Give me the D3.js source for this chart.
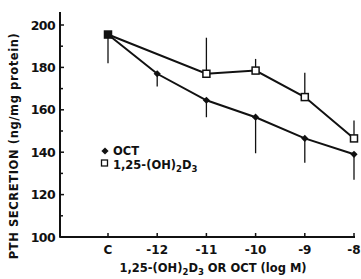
<!DOCTYPE html>
<html><head><meta charset="utf-8">
<script src="https://cdn.jsdelivr.net/npm/d3@7/dist/d3.min.js"></script>
<style>body{margin:0;background:#fff}svg{display:block}text{font-family:"DejaVu Sans",sans-serif;fill:#111}</style>
</head><body><svg id="c" width="361" height="279"></svg>
<script>
const categories = ["C","-12","-11","-10","-9","-8"];
const yTicks = [100,120,140,160,180,200];
const octValues = [195.5,177,164.5,156.5,146.5,139];
const octErrLow = [182,171,156.5,139.5,135,127];
const d3Cats = ["C","-11","-10","-9","-8"];
const d3Values = [195.5,177,178.5,166,146.5];
const d3ErrHigh = [195.5,194,184,177.5,155];

const svg = d3.select("#c");
const x = d3.scalePoint().domain(categories).range([108,354]);
const y = d3.scaleLinear().domain([100,200]).range([237,25]);
const x0 = 60;

const g = svg.append("g");
g.selectAll(".eo").data(categories).join("line")
  .attr("x1",d=>x(d)).attr("x2",d=>x(d))
  .attr("y1",(d,i)=>y(octValues[i])).attr("y2",(d,i)=>y(octErrLow[i]))
  .attr("stroke","#111").attr("stroke-width",1.3);
g.selectAll(".ed").data(d3Cats).join("line")
  .attr("x1",d=>x(d)).attr("x2",d=>x(d))
  .attr("y1",(d,i)=>y(d3Values[i])).attr("y2",(d,i)=>y(d3ErrHigh[i]))
  .attr("stroke","#111").attr("stroke-width",1.3);

const lo = d3.line().x(d=>x(d[0])).y(d=>y(d[1]));
g.append("path").datum(categories.map((c,i)=>[c,octValues[i]])).attr("d",lo)
  .attr("fill","none").attr("stroke","#111").attr("stroke-width",2);
g.append("path").datum(d3Cats.map((c,i)=>[c,d3Values[i]])).attr("d",lo)
  .attr("fill","none").attr("stroke","#111").attr("stroke-width",2);

const diamond = d3.symbol().type(d3.symbolSquare).size(26);
g.selectAll(".mo").data(categories).join("path")
  .attr("d",diamond).attr("transform",(d,i)=>`translate(${x(d)},${y(octValues[i])}) rotate(45)`)
  .attr("fill","#111");
g.selectAll(".md").data(d3Cats).join("rect")
  .attr("x",d=>x(d)-3.5).attr("width",7).attr("height",7)
  .attr("y",(d,i)=>y(d3Values[i])-3.5)
  .attr("fill",(d,i)=>i===0?"#111":"#fff").attr("stroke","#111").attr("stroke-width",1.5);

const ax = svg.append("g");
ax.append("line").attr("x1",x0).attr("x2",x0).attr("y1",12).attr("y2",y(100)).attr("stroke","#111").attr("stroke-width",2);
ax.append("line").attr("x1",x0).attr("x2",x(categories[5])+1).attr("y1",y(100)).attr("y2",y(100)).attr("stroke","#111").attr("stroke-width",2);
const minor = d3.range(110,200,20);
ax.selectAll(".yt").data(yTicks).join("line")
  .attr("x1",x0-1).attr("x2",x0+4).attr("y1",d=>y(d)).attr("y2",d=>y(d)).attr("stroke","#111").attr("stroke-width",1.5);
ax.selectAll(".ym").data(minor).join("line")
  .attr("x1",x0).attr("x2",x0+3).attr("y1",d=>y(d)).attr("y2",d=>y(d)).attr("stroke","#111").attr("stroke-width",1.5);
ax.selectAll(".yl").data(yTicks).join("text")
  .attr("x",x0-5).attr("y",d=>y(d)+4.5).attr("text-anchor","end")
  .attr("font-size",12.5).attr("font-weight","bold").attr("letter-spacing","-0.6").text(d=>d);
ax.selectAll(".xt").data(categories).join("line")
  .attr("x1",d=>x(d)).attr("x2",d=>x(d)).attr("y1",y(100)).attr("y2",y(100)-4).attr("stroke","#111").attr("stroke-width",1.5);
ax.selectAll(".xl").data(categories).join("text")
  .attr("x",d=>x(d)).attr("y",y(100)+17).attr("text-anchor","middle")
  .attr("font-size",12).attr("font-weight","bold").text(d=>d);

svg.append("text").attr("transform","translate(18,146) rotate(-90)").attr("text-anchor","middle")
  .attr("font-size",11.5).attr("font-weight","bold").attr("letter-spacing","0.6")
  .text("PTH SECRETION (ng/mg protein)");
const xt = svg.append("text").attr("x",213).attr("y",272).attr("text-anchor","middle")
  .attr("font-size",11.5).attr("font-weight","bold");
xt.append("tspan").text("1,25-(OH)");
xt.append("tspan").attr("dy",3).attr("font-size",8.5).text("2");
xt.append("tspan").attr("dy",-3).text("D");
xt.append("tspan").attr("dy",3).attr("font-size",8.5).text("3");
xt.append("tspan").attr("dy",-3).text(" OR OCT (log M)");

const lg = svg.append("g");
lg.append("path").attr("d",diamond).attr("transform","translate(105,151) rotate(45)").attr("fill","#111");
lg.append("text").attr("x",113).attr("y",154.5).attr("font-size",11.5).attr("font-weight","bold").text("OCT");
lg.append("rect").attr("x",101.5).attr("y",160).attr("width",6).attr("height",6).attr("fill","#fff").attr("stroke","#111").attr("stroke-width",1.3);
const lt = lg.append("text").attr("x",113).attr("y",168.5).attr("font-size",11.5).attr("font-weight","bold");
lt.append("tspan").text("1,25-(OH)");
lt.append("tspan").attr("dy",3).attr("font-size",8.5).text("2");
lt.append("tspan").attr("dy",-3).text("D");
lt.append("tspan").attr("dy",3).attr("font-size",8.5).text("3");
</script></body></html>
